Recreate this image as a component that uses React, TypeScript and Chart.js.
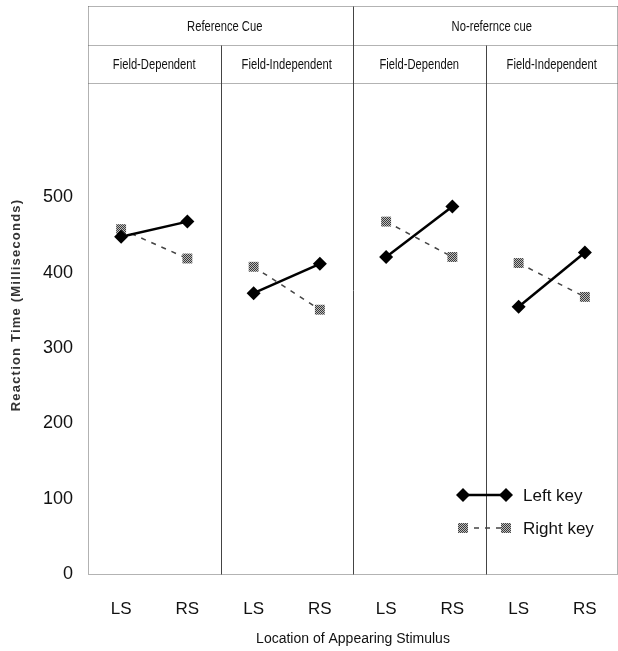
import React, { useEffect, useRef } from 'react';
import { Chart, registerables } from 'chart.js';

Chart.register(...registerables);

const categories = ['LS', 'RS', 'LS', 'RS', 'LS', 'RS', 'LS', 'RS'];
const cueGroups = ['Reference Cue', 'No-refernce cue'];
const styleGroups = ['Field-Dependent', 'Field-Independent', 'Field-Dependen', 'Field-Independent'];
const seriesNames = ['Left key', 'Right key'];
const leftKey = [448, 468, 373, 412, 421, 488, 355, 427];
const rightKey = [458, 419, 408, 351, 468, 421, 413, 368];
const yTicks = [0, 100, 200, 300, 400, 500];
const yTitle = 'Reaction Time (Milliseconds)';
const xTitle = 'Location of Appearing Stimulus';

const SANS = '"Liberation Sans", Arial, sans-serif';

function makeDither(): CanvasPattern | string {
  const c = document.createElement('canvas');
  c.width = 2;
  c.height = 2;
  const g = c.getContext('2d');
  if (!g) return '#888';
  g.fillStyle = '#bdbdbd';
  g.fillRect(0, 0, 2, 2);
  g.fillStyle = '#3a3a3a';
  g.fillRect(0, 0, 1, 1);
  g.fillRect(1, 1, 1, 1);
  const p = g.createPattern(c, 'repeat');
  return p || '#888';
}

function drawDiamond(ctx: CanvasRenderingContext2D, x: number, y: number, r: number) {
  ctx.beginPath();
  ctx.moveTo(x - r, y);
  ctx.lineTo(x, y - r);
  ctx.lineTo(x + r, y);
  ctx.lineTo(x, y + r);
  ctx.closePath();
  ctx.fill();
}

function narrowText(ctx: CanvasRenderingContext2D, text: string, x: number, y: number, squeeze: number) {
  ctx.save();
  ctx.translate(x, y);
  ctx.scale(squeeze, 1);
  ctx.fillText(text, 0, 0);
  ctx.restore();
}

const panelsPlugin = {
  id: 'panels',
  beforeDatasetsDraw(chart: any) {
    const { ctx, chartArea, scales } = chart;
    const { left, right, top, bottom } = chartArea;
    const xs = scales.x;
    const boundary = (i: number) => (xs.getPixelForValue(i) + xs.getPixelForValue(i + 1)) / 2;
    const row1 = top + 38;
    const row2 = top + 76;
    ctx.save();
    ctx.lineWidth = 1;
    ctx.strokeStyle = '#666';
    ctx.setLineDash([1, 1]);
    const line = (x1: number, y1: number, x2: number, y2: number) => {
      ctx.beginPath();
      ctx.moveTo(x1, y1);
      ctx.lineTo(x2, y2);
      ctx.stroke();
    };
    const L = Math.round(left) + 0.5;
    const R = Math.round(right) - 0.5;
    const T = Math.round(top) - 0.5;
    const B = Math.round(bottom) + 0.5;
    line(L, T, R, T);
    line(L, B, R, B);
    line(L, T, L, B);
    line(R, T, R, B);
    line(L, Math.round(row1) + 0.5, R, Math.round(row1) + 0.5);
    line(L, Math.round(row2) + 0.5, R, Math.round(row2) + 0.5);
    ctx.setLineDash([]);
    ctx.strokeStyle = '#444';
    const mid = Math.round(boundary(3)) + 0.5;
    line(mid, T, mid, B);
    [1, 5].forEach((i) => {
      const bx = Math.round(boundary(i)) + 0.5;
      line(bx, Math.round(row1) + 0.5, bx, B);
    });

    ctx.fillStyle = '#111';
    ctx.textAlign = 'center';
    ctx.textBaseline = 'middle';
    ctx.font = '14px ' + SANS;
    narrowText(ctx, cueGroups[0], (left + mid) / 2 + 4, (top + row1) / 2 + 1, 0.8);
    narrowText(ctx, cueGroups[1], (mid + right) / 2 + 6, (top + row1) / 2 + 1, 0.8);
    const edges = [left, boundary(1), boundary(3), boundary(5), right];
    styleGroups.forEach((s, i) => {
      narrowText(ctx, s, (edges[i] + edges[i + 1]) / 2, (row1 + row2) / 2 + 1, 0.8);
    });

    // y-axis title
    ctx.save();
    ctx.translate(16, 305);
    ctx.rotate(-Math.PI / 2);
    ctx.font = 'bold 13px ' + SANS;
    (ctx as any).letterSpacing = '1.2px';
    ctx.fillStyle = '#333';
    ctx.fillText(yTitle, 0, 0);
    ctx.restore();
    ctx.restore();
  },
  afterDraw(chart: any) {
    const { ctx, chartArea } = chart;
    const { right, bottom } = chartArea;
    const x0 = right - 155;
    const x1 = right - 112;
    const tx = right - 95;
    ctx.save();
    chart.data.datasets.forEach((ds: any, i: number) => {
      const y = bottom - 79 + i * 33;
      ctx.strokeStyle = ds.borderColor;
      ctx.lineWidth = ds.borderWidth;
      ctx.setLineDash(ds.borderDash || []);
      ctx.beginPath();
      ctx.moveTo(x0, y);
      ctx.lineTo(x1, y);
      ctx.stroke();
      ctx.setLineDash([]);
      ctx.fillStyle = ds.pointBackgroundColor;
      if (ds.pointStyle === 'rectRot') {
        drawDiamond(ctx, x0, y, ds.pointRadius);
        drawDiamond(ctx, x1, y, ds.pointRadius);
      } else {
        const s = ds.pointRadius * Math.SQRT1_2;
        ctx.fillRect(x0 - s, y - s, 2 * s, 2 * s);
        ctx.fillRect(x1 - s, y - s, 2 * s, 2 * s);
      }
      ctx.fillStyle = '#111';
      ctx.font = '17px ' + SANS;
      ctx.textAlign = 'left';
      ctx.textBaseline = 'middle';
      ctx.fillText(ds.label, tx, y + 1);
    });
    ctx.restore();
  },
};

export default function App() {
  const ref = useRef<HTMLCanvasElement | null>(null);
  useEffect(() => {
    if (!ref.current) return;
    const dither = makeDither();
    const hideGap = (color: string) => (c: any) => (c.p0DataIndex % 2 === 1 ? 'rgba(0,0,0,0)' : color);
    const chart = new Chart(ref.current, {
      type: 'line',
      data: {
        labels: categories,
        datasets: [
          {
            label: seriesNames[0],
            data: leftKey,
            borderColor: '#000',
            borderWidth: 2.5,
            pointStyle: 'rectRot',
            pointRadius: 7,
            pointBackgroundColor: '#000',
            pointBorderWidth: 0,
            segment: { borderColor: hideGap('#000') },
          },
          {
            label: seriesNames[1],
            data: rightKey,
            borderColor: '#444',
            borderWidth: 1.5,
            borderDash: [5, 6],
            pointStyle: 'rect',
            pointRadius: 7,
            pointBackgroundColor: dither,
            pointBorderWidth: 0,
            segment: { borderColor: hideGap('#444') },
          },
        ],
      } as any,
      options: {
        animation: false,
        responsive: false,
        layout: { padding: { top: 7, right: 1, left: 0, bottom: 0 } },
        plugins: { legend: { display: false }, tooltip: { enabled: false } },
        scales: {
          x: {
            type: 'category',
            offset: true,
            grid: { display: false, drawTicks: false },
            border: { display: false },
            ticks: { font: { size: 17, family: SANS }, color: '#111', padding: 25, maxRotation: 0, autoSkip: false },
            title: { display: true, text: xTitle, font: { size: 14, family: SANS }, color: '#111', padding: { top: 0, bottom: 3 } },
            afterFit: (s: any) => {
              s.height = 77;
              s.paddingLeft = 0;
              s.paddingRight = 0;
            },
          },
          y: {
            type: 'linear',
            min: 0,
            max: 753,
            grid: { display: false, drawTicks: false },
            border: { display: false },
            afterBuildTicks: (s: any) => { s.ticks = yTicks.map((v) => ({ value: v })); },
            ticks: { font: { size: 18, family: SANS }, color: '#111', padding: 15 },
            title: { display: false },
            afterFit: (s: any) => {
              s.width = 88;
              s.paddingTop = 0;
              s.paddingBottom = 0;
            },
          },
        },
      } as any,
      plugins: [panelsPlugin],
    });
    return () => chart.destroy();
  }, []);
  return (
    <div style={{ position: 'fixed', left: 0, top: 0, width: 618, height: 651, overflow: 'hidden', background: '#fff' }}>
      <canvas ref={ref} width={625} height={651} style={{ display: 'block' }} />
    </div>
  );
}
